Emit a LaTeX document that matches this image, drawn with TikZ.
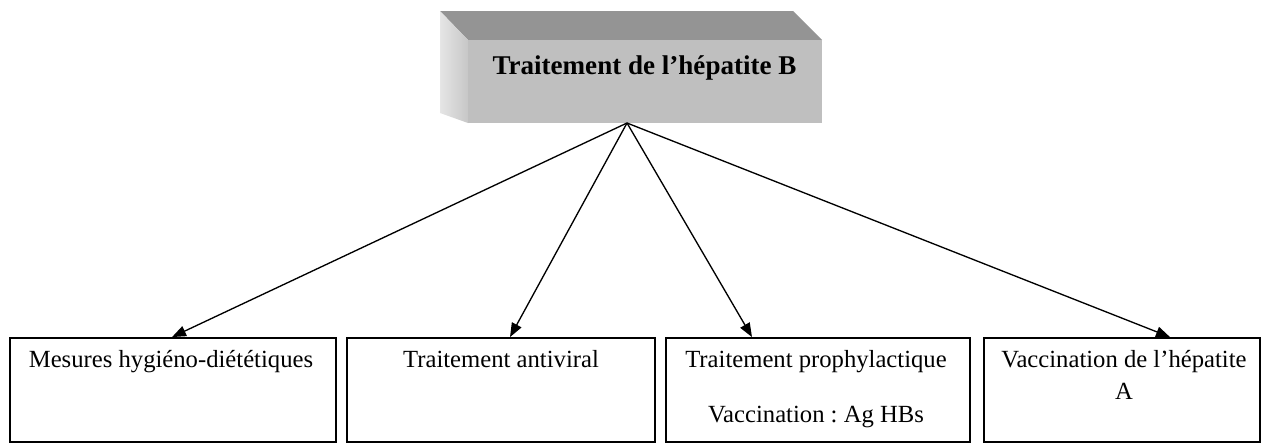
\documentclass[tikz,border=0pt]{standalone}
\usepackage{fontspec}
\setmainfont{Liberation Serif}
\usetikzlibrary{arrows.meta}
\frenchspacing
\begin{document}
\begin{tikzpicture}[x=0.75pt,y=-0.75pt,
  box/.style={draw=black, line width=1.4pt, minimum width=#1*0.75pt, minimum height=104*0.75pt, inner sep=0pt},
  lab/.style={anchor=north, inner sep=0pt, font=\fontsize{18.5}{25}\selectfont, align=center},
  conn/.style={line width=1pt, -{Triangle[length=10.5pt,width=8pt]}}]
\useasboundingbox (0,0) rectangle (1266,444);
% 3D title box
\fill[black!42] (440,11) -- (793,11) -- (822,40) -- (468,40) -- cycle;
\shade[left color=black!10, right color=black!22] (440,11) -- (468,40) -- (468,123) -- (440,113) -- cycle;
\node[fill=black!25, minimum width=354*0.75pt, minimum height=83*0.75pt, inner sep=0pt] (title) at (645,81.5) {};
\node[font=\fontsize{20.3}{24}\selectfont\bfseries, inner sep=0pt] (titletext) at (644.5,68) {Traitement de l’hépatite B};
\coordinate (src) at (627,123);
% boxes
\node[box=326] (b1) at (173,390) {};
\node[box=308] (b2) at (501,390) {};
\node[box=304] (b3) at (818,390) {};
\node[box=276] (b4) at (1122,390) {};
\node[lab] (t1) at (171,350) {Mesures hygiéno-diététiques};
\node[lab] (t2) at (501,350) {Traitement antiviral};
\node[lab] (t3) at (816,350) {Traitement prophylactique};
\node[lab] (t3b) at (816,406) {Vaccination : Ag HBs};
\node[lab] (t4) at (1124,350) {Vaccination de l’hépatite\\[-1pt]A};
% connectors
\draw[conn] (src) -- (b1.north -| 172,0);
\draw[conn] (src) -- (b2.north -| 510,0);
\draw[conn] (src) -- (b3.north -| 752,0);
\draw[conn] (src) -- (b4.north -| 1170,0);
\end{tikzpicture}
\end{document}
